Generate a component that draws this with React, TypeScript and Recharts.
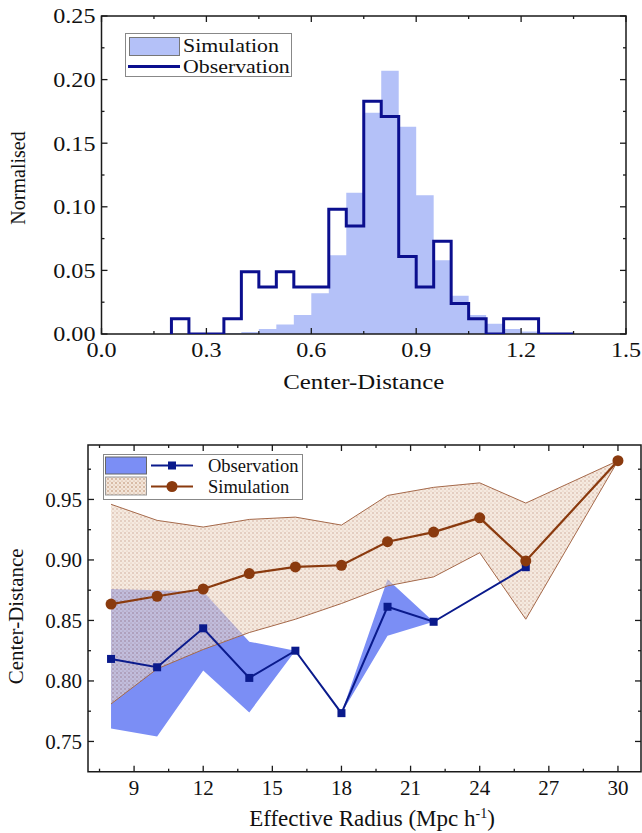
import { ComposedChart, Area, Line, XAxis, YAxis, ReferenceArea, Label } from "recharts";

// ---------- top panel: histogram ----------
const binStart = [0.2, 0.25, 0.3, 0.35, 0.4, 0.45, 0.5, 0.55, 0.6, 0.65, 0.7, 0.75, 0.8, 0.85, 0.9, 0.95, 1.0, 1.05, 1.1, 1.15, 1.2, 1.25, 1.3];
const binEnd = 1.35;
const simHist = [0, 0, 0, 0.0006, 0.0015, 0.004, 0.0075, 0.015, 0.032, 0.062, 0.111, 0.174, 0.207, 0.163, 0.109, 0.058, 0.03, 0.015, 0.008, 0.004, 0.002, 0.0008, 0.0003];
const obsHist = [0.012, 0, 0, 0.012, 0.049, 0.037, 0.049, 0.037, 0.037, 0.098, 0.085, 0.183, 0.171, 0.061, 0.037, 0.073, 0.024, 0.012, 0, 0.012, 0.012, 0, 0];

const histXMajor = [0, 0.3, 0.6, 0.9, 1.2, 1.5];
const histXMinor = [0.15, 0.45, 0.75, 1.05, 1.35];
const histYMajor = [0, 0.05, 0.1, 0.15, 0.2, 0.25];
const histYMinor = [0.025, 0.075, 0.125, 0.175, 0.225];

// ---------- bottom panel: center-distance vs radius ----------
const radius = [8, 10, 12, 14, 16, 18, 20, 22, 24, 26, 30];
const simMean = [0.8635, 0.870, 0.876, 0.8887, 0.8942, 0.8956, 0.9151, 0.923, 0.9348, 0.8992, 0.982];
const simHigh = [0.946, 0.9327, 0.9272, 0.9335, 0.9354, 0.9288, 0.9533, 0.960, 0.9637, 0.947, 0.982];
const simLow = [0.781, 0.810, 0.826, 0.840, 0.851, 0.864, 0.8786, 0.886, 0.906, 0.851, 0.982];
const obsMean = [0.8182, 0.8113, 0.8435, 0.8025, 0.825, 0.7734, 0.8613, 0.8489, null, 0.894, null];
const obsHigh = [0.876, 0.875, 0.874, 0.8325, 0.825, 0.7734, 0.884, 0.8489, null, 0.894, null];
const obsLow = [0.7607, 0.754, 0.8087, 0.774, 0.825, 0.7734, 0.8374, 0.8489, null, 0.894, null];

const radXMajor = [9, 12, 15, 18, 21, 24, 27, 30];
const radXMinor = [7.5, 10.5, 13.5, 16.5, 19.5, 22.5, 25.5, 28.5];
const cdYMajor = [0.75, 0.8, 0.85, 0.9, 0.95];
const cdYMinor = [0.775, 0.825, 0.875, 0.925, 0.975];

const FONT = '"Liberation Serif", "Times New Roman", Times, "DejaVu Serif", serif';
const AXIS = "#1a1a1a";

const histRows = [
  { x: binStart[0], sim: 0, obs: 0 },
  ...binStart.map((x, i) => ({ x, sim: simHist[i], obs: obsHist[i] })),
  { x: binEnd, sim: 0, obs: 0 },
];

const radRows = radius.map((r, i) => ({
  r,
  sim: simMean[i],
  simRange: [simLow[i], simHigh[i]],
  obs: obsMean[i],
  obsRange: obsMean[i] === null ? null : [obsLow[i], obsHigh[i]],
}));

const sorted = (a: number[], b: number[]) => [...a, ...b].sort((p, q) => p - q);
const isIn = (list: number[], v: number) => list.some((m) => Math.abs(m - v) < 1e-9);

// text drawn with an optional horizontal stretch (the top panel of the source is wider than tall)
const SText = ({ x, y, sx = 1, anchor = "middle", fs, children }: any) => (
  <text
    transform={`translate(${x},${y}) scale(${sx},1)`}
    x={0}
    y={0}
    dy="0.35em"
    textAnchor={anchor}
    fontSize={fs}
    fontFamily={FONT}
    fill="#111"
  >
    {children}
  </text>
);

const makeYTick = (major: number[], plotW: number, fmt: (v: number) => string, fs: number, sx: number) => (props: any) => {
  const { x, y, payload } = props;
  const big = isIn(major, payload.value);
  const len = big ? 6 : 3;
  return (
    <g>
      <line x1={x} y1={y} x2={x + len} y2={y} stroke={AXIS} strokeWidth={1.3} />
      <line x1={x + plotW} y1={y} x2={x + plotW - len} y2={y} stroke={AXIS} strokeWidth={1.3} />
      {big && (
        <SText x={x - 6} y={y} sx={sx} anchor="end" fs={fs}>
          {fmt(payload.value)}
        </SText>
      )}
    </g>
  );
};

const makeXTick = (major: number[], plotH: number, fmt: (v: number) => string, fs: number, gap: number, sx: number) => (props: any) => {
  const { x, y, payload } = props;
  const big = isIn(major, payload.value);
  const len = big ? 6 : 3;
  return (
    <g>
      <line x1={x} y1={y} x2={x} y2={y - len} stroke={AXIS} strokeWidth={1.3} />
      <line x1={x} y1={y - plotH} x2={x} y2={y - plotH + len} stroke={AXIS} strokeWidth={1.3} />
      {big && (
        <SText x={x} y={y + gap} sx={sx} fs={fs}>
          {fmt(payload.value)}
        </SText>
      )}
    </g>
  );
};

const SquareDot = (props: any) => {
  const { cx, cy } = props;
  if (cx == null || cy == null) return null;
  return <rect x={cx - 4} y={cy - 4} width={8} height={8} fill="#0a1a8c" />;
};

const CircleDot = (props: any) => {
  const { cx, cy } = props;
  if (cx == null || cy == null) return null;
  return <circle cx={cx} cy={cy} r={5.5} fill="#8a3a0e" />;
};

// top panel geometry
const W1 = 642, H1 = 400, L1 = 101.5, R1 = 16, T1 = 16, XH1 = 66;
const PW1 = W1 - L1 - R1, PH1 = H1 - T1 - XH1;
// bottom panel geometry
const W2 = 642, H2 = 433, L2 = 88, R2 = 1, T2 = 45, XH2 = 61.3;
const PW2 = W2 - L2 - R2, PH2 = H2 - T2 - XH2;

const HistLegend = () => (
  <div style={{ position: "absolute", left: 125, top: 33, width: 167, height: 44, border: "1px solid #888", background: "#fff", boxSizing: "border-box", fontFamily: FONT, fontSize: 19.5, color: "#111" }}>
    <div style={{ position: "absolute", left: 3, top: 3, width: 49, height: 17, background: "#b4c1f8", border: "1px solid #777" }} />
    <div style={{ position: "absolute", left: 57, top: 0, lineHeight: "23px", transform: "scaleX(1.12)", transformOrigin: "left center", whiteSpace: "nowrap" }}>Simulation</div>
    <div style={{ position: "absolute", left: 2, top: 31, width: 52, height: 3, background: "#0b0f8e" }} />
    <div style={{ position: "absolute", left: 57, top: 21, lineHeight: "23px", transform: "scaleX(1.12)", transformOrigin: "left center", whiteSpace: "nowrap" }}>Observation</div>
  </div>
);

const RadLegend = () => (
  <svg style={{ position: "absolute", left: 103, top: 54 }} width={200} height={46}>
    <defs>
      <pattern id="legdots" width="4" height="4" patternUnits="userSpaceOnUse">
        <rect width="4" height="4" fill="#f3e6da" />
        <circle cx="1" cy="1" r="0.75" fill="#b07a58" />
        <circle cx="3" cy="3" r="0.6" fill="#c99a7c" />
      </pattern>
    </defs>
    <rect x={0.5} y={0.5} width={199} height={45} fill="#fff" stroke="#888" />
    <rect x={2.5} y={3} width={41} height={17} fill="#7b8ef5" stroke="#666" strokeWidth={1} />
    <rect x={2.5} y={23} width={41} height={18} fill="url(#legdots)" stroke="#999" strokeWidth={1} />
    <line x1={48} y1={11.5} x2={90} y2={11.5} stroke="#0a1a8c" strokeWidth={2} />
    <rect x={65} y={7.5} width={8} height={8} fill="#0a1a8c" />
    <line x1={48} y1={32.5} x2={90} y2={32.5} stroke="#8a3a0e" strokeWidth={2} />
    <circle cx={69} cy={32.5} r={5.5} fill="#8a3a0e" />
    <text x={105} y={11.5} dy="0.35em" fontSize={18.5} fontFamily={FONT} fill="#111">Observation</text>
    <text x={105} y={32.5} dy="0.35em" fontSize={18.5} fontFamily={FONT} fill="#111">Simulation</text>
  </svg>
);

export default function App() {
  return (
    <div style={{ position: "absolute", left: 0, top: 0, width: 642, height: 833, background: "#fff" }}>
      <div style={{ position: "relative", width: W1, height: H1 }}>
        <ComposedChart width={W1} height={H1} data={histRows} margin={{ top: T1, right: R1, left: 0, bottom: 0 }}>
          <XAxis
            dataKey="x"
            type="number"
            domain={[0, 1.5]}
            ticks={sorted(histXMajor, histXMinor)}
            interval={0}
            height={XH1}
            tickSize={0}
            tickMargin={0}
            axisLine={false}
            tickLine={false}
            tick={makeXTick(histXMajor, PH1, (v) => v.toFixed(1), 21, 16, 1.15)}
            allowDataOverflow
          >
            <Label
              content={(p: any) => {
                const vb = p.viewBox;
                return (
                  <SText x={vb.x + vb.width / 2} y={381} sx={1.13} fs={22}>
                    Center-Distance
                  </SText>
                );
              }}
            />
          </XAxis>
          <YAxis
            type="number"
            domain={[0, 0.25]}
            ticks={sorted(histYMajor, histYMinor)}
            interval={0}
            width={L1}
            tickSize={0}
            tickMargin={0}
            axisLine={false}
            tickLine={false}
            tick={makeYTick(histYMajor, PW1, (v) => v.toFixed(2), 21, 1.15)}
            allowDataOverflow
          >
            <Label
              content={(p: any) => {
                const vb = p.viewBox;
                const cy = vb.y + vb.height / 2 + 3;
                return (
                  <text x={18} y={cy} transform={`rotate(-90, 18, ${cy})`} dy="0.35em" textAnchor="middle" fontSize={20} fontFamily={FONT} fill="#111">
                    Normalised
                  </text>
                );
              }}
            />
          </YAxis>
          <Area type="stepAfter" dataKey="sim" stroke="none" fill="#b4c1f8" fillOpacity={1} isAnimationActive={false} dot={false} activeDot={false} />
          <Line type="stepAfter" dataKey="obs" stroke="#0b0f8e" strokeWidth={3} dot={false} activeDot={false} isAnimationActive={false} />
          <ReferenceArea x1={0} x2={1.5} y1={0} y2={0.25} fill="none" stroke={AXIS} strokeWidth={1.5} ifOverflow="visible" />
        </ComposedChart>
        <HistLegend />
      </div>

      <div style={{ position: "relative", width: W2, height: H2 }}>
        <ComposedChart width={W2} height={H2} data={radRows} margin={{ top: T2, right: R2, left: 0, bottom: 0 }}>
          <defs>
            <pattern id="simdots" width="4" height="4" patternUnits="userSpaceOnUse">
              <rect width="4" height="4" fill="#efdccb" />
              <circle cx="1" cy="1" r="0.75" fill="#a8694a" />
              <circle cx="3" cy="3" r="0.6" fill="#c08a6a" />
            </pattern>
          </defs>
          <XAxis
            dataKey="r"
            type="number"
            domain={[7, 31]}
            ticks={sorted(radXMajor, radXMinor)}
            interval={0}
            height={XH2}
            tickSize={0}
            tickMargin={0}
            axisLine={false}
            tickLine={false}
            tick={makeXTick(radXMajor, PH2, (v) => String(v), 21, 16, 1)}
            allowDataOverflow
          >
            <Label
              content={() => (
                <text x={372} y={418} dy="0.35em" textAnchor="middle" fontSize={23} fontFamily={FONT} fill="#111">
                  <tspan>Effective Radius (Mpc h</tspan>
                  <tspan dy={-8} fontSize={14}>-1</tspan>
                  <tspan dy={8}>)</tspan>
                </text>
              )}
            />
          </XAxis>
          <YAxis
            type="number"
            domain={[0.725, 0.995]}
            ticks={sorted(cdYMajor, cdYMinor)}
            interval={0}
            width={L2}
            tickSize={0}
            tickMargin={0}
            axisLine={false}
            tickLine={false}
            tick={makeYTick(cdYMajor, PW2, (v) => v.toFixed(2), 21, 1)}
            allowDataOverflow
          >
            <Label
              content={(p: any) => {
                const vb = p.viewBox;
                const cy = vb.y + vb.height / 2 + 8;
                return (
                  <text x={16} y={cy} transform={`rotate(-90, 16, ${cy})`} dy="0.35em" textAnchor="middle" fontSize={21} fontFamily={FONT} fill="#111">
                    Center-Distance
                  </text>
                );
              }}
            />
          </YAxis>
          <Area type="linear" dataKey="obsRange" stroke="none" fill="#7b8ef5" fillOpacity={1} connectNulls isAnimationActive={false} dot={false} activeDot={false} />
          <Line type="linear" dataKey="obs" stroke="#0a1a8c" strokeWidth={2} connectNulls dot={<SquareDot />} activeDot={false} isAnimationActive={false} />
          <Area type="linear" dataKey="simRange" stroke="#a5694a" strokeWidth={1} fill="url(#simdots)" fillOpacity={0.6} isAnimationActive={false} dot={false} activeDot={false} />
          <Line type="linear" dataKey="sim" stroke="#8a3a0e" strokeWidth={2.2} dot={<CircleDot />} activeDot={false} isAnimationActive={false} />
          <ReferenceArea x1={7} x2={31} y1={0.725} y2={0.995} fill="none" stroke={AXIS} strokeWidth={1.5} ifOverflow="visible" />
        </ComposedChart>
        <RadLegend />
      </div>
    </div>
  );
}
